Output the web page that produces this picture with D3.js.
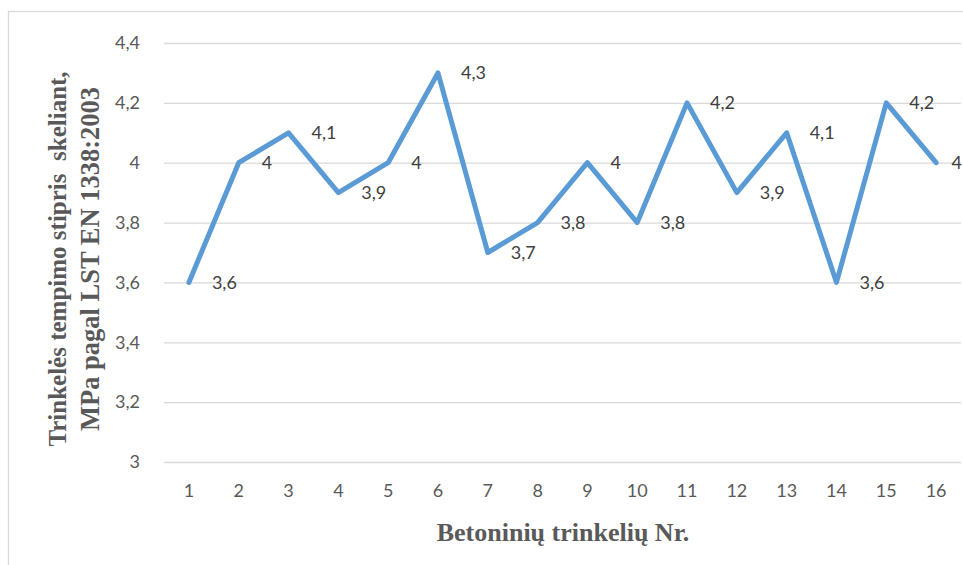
<!DOCTYPE html>
<html>
<head>
<meta charset="utf-8">
<script src="https://cdn.jsdelivr.net/npm/d3@7"></script>
<style>
  html, body { margin: 0; padding: 0; background: #fff; }
  svg { display: block; }
</style>
</head>
<body>
<svg id="chart" width="963" height="565"></svg>
<script>
// Paving block numbers and their splitting tensile strength (MPa)
const blocks = [1, 2, 3, 4, 5, 6, 7, 8, 9, 10, 11, 12, 13, 14, 15, 16];
const strength = [3.6, 4, 4.1, 3.9, 4, 4.3, 3.7, 3.8, 4, 3.8, 4.2, 3.9, 4.1, 3.6, 4.2, 4];
const yTicks = [3, 3.2, 3.4, 3.6, 3.8, 4, 4.2, 4.4];
const xTitle = "Betoninių trinkelių Nr.";
const yTitleLines = ["Trinkelės tempimo stipris  skeliant,", "MPa pagal LST EN 1338:2003"];

const W = 963;
const svg = d3.select("#chart");
const plot = { left: 164, right: 961, top: 43, bottom: 462 };
const fmt = v => String(+v.toFixed(1)).replace(".", ",");
const sans = "Lato, 'Open Sans', sans-serif";
const serif = "'Liberation Serif', 'Times New Roman', serif";

// Chart frame
svg.append("rect")
  .attr("x", 8.5).attr("y", 11.5)
  .attr("width", 1000).attr("height", 600)
  .attr("fill", "none").attr("stroke", "#d9d9d9").attr("stroke-width", 1.3);

const x = d3.scaleBand().domain(blocks).range([plot.left, plot.right]);
const y = d3.scaleLinear().domain([3, 4.4]).range([plot.bottom, plot.top]);
const cx = i => x(blocks[i]) + x.bandwidth() / 2;

// Horizontal gridlines + y tick labels
const yAxis = d3.axisLeft(y).tickValues(yTicks).tickFormat(fmt)
  .tickSize(-(plot.right - plot.left)).tickPadding(24);
const gy = svg.append("g").attr("transform", `translate(${plot.left},0)`).call(yAxis);
gy.select(".domain").remove();
gy.selectAll(".tick line").attr("stroke", "#d9d9d9").attr("stroke-width", 1.3);
gy.selectAll(".tick text")
  .attr("fill", "#595959").attr("font-family", sans).attr("font-size", 18);

// Category axis labels
const xAxis = d3.axisBottom(x).tickSize(0).tickPadding(22);
const gx = svg.append("g").attr("transform", `translate(0,${plot.bottom})`).call(xAxis);
gx.select(".domain").remove();
gx.selectAll(".tick text")
  .attr("fill", "#595959").attr("font-family", sans).attr("font-size", 18);

// Strength line
const line = d3.line()
  .x((d, i) => cx(i))
  .y(d => y(d));
svg.append("path")
  .datum(strength)
  .attr("d", line)
  .attr("fill", "none")
  .attr("stroke", "#5b9bd5")
  .attr("stroke-width", 5)
  .attr("stroke-linejoin", "round")
  .attr("stroke-linecap", "round");

// Value labels to the right of each point, kept inside the chart
svg.append("g").selectAll("text")
  .data(strength)
  .join("text")
  .attr("y", d => y(d))
  .attr("dy", "0.35em")
  .attr("fill", "#404040")
  .attr("font-family", sans)
  .attr("font-size", 18)
  .text(d => fmt(d))
  .attr("x", function (d, i) {
    const w = this.getComputedTextLength();
    return Math.min(cx(i) + 23, W - w - 1);
  });

// Axis titles
svg.append("text")
  .attr("x", 563).attr("y", 541)
  .attr("text-anchor", "middle")
  .attr("fill", "#595959")
  .attr("font-family", serif)
  .attr("font-weight", "bold")
  .attr("font-size", 26)
  .text(xTitle);

// Two-line rotated value-axis title, each line centred on the plot's middle
const yTitleCenter = 259;
const yTitleBase = [66, 99];
const yTitleSize = [25, 26.5];
yTitleLines.forEach((t, i) => {
  const el = svg.append("text")
    .attr("fill", "#595959")
    .attr("font-family", serif)
    .attr("font-weight", "bold")
    .attr("font-size", yTitleSize[i])
    .attr("xml:space", "preserve")
    .style("white-space", "pre")
    .text(t);
  const len = el.node().getComputedTextLength();
  el.attr("transform", `translate(${yTitleBase[i]},${yTitleCenter + len / 2}) rotate(-90)`);
});
</script>
</body>
</html>
